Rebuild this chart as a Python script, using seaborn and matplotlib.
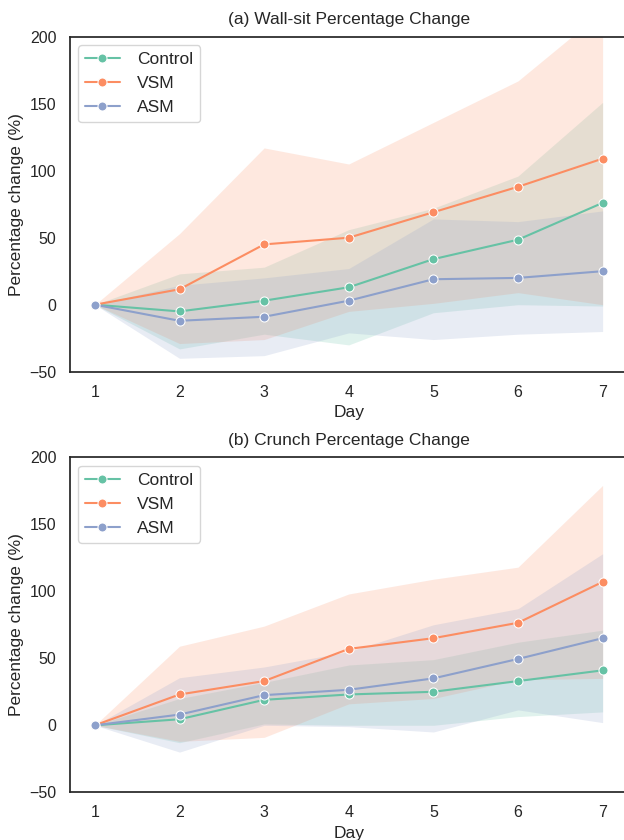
import numpy as np
import pandas as pd
import matplotlib.pyplot as plt
import seaborn as sns

days = [1, 2, 3, 4, 5, 6, 7]
groups = ['Control', 'VSM', 'ASM']

# (a) wall-sit: mean, lower and upper band
wall_control = [0, -5, 3, 13, 34, 48.5, 76]
wall_control_lo = [0, -33, -22, -30, -6, 0, -1]
wall_control_hi = [0, 23, 28, 56, 72, 96, 151]
wall_vsm = [0, 11.5, 45, 50, 69, 88, 109]
wall_vsm_lo = [0, -29, -26, -5, 1, 9, 0]
wall_vsm_hi = [0, 53, 117, 105, 136, 167, 219]
wall_asm = [0, -12, -9, 3, 19, 20, 25]
wall_asm_lo = [0, -40, -38, -21, -26, -22, -20]
wall_asm_hi = [0, 14.5, 20, 27, 64, 62, 70]

# (b) crunch
crunch_control = [0, 4.5, 19, 23, 25, 33, 41]
crunch_control_lo = [0, -13, 1, 0, 0, 6.5, 10]
crunch_control_hi = [0, 20, 32, 45, 49, 62, 71]
crunch_vsm = [0, 23, 33, 57, 65, 76.5, 107]
crunch_vsm_lo = [0, -12, -9, 16, 20, 34, 35]
crunch_vsm_hi = [0, 59, 74, 98, 109, 118, 179]
crunch_asm = [0, 8, 22.5, 26.5, 35, 49.5, 65]
crunch_asm_lo = [0, -20, 0, -1, -5, 11.5, 2]
crunch_asm_hi = [0, 35.5, 43.5, 55, 75, 87, 128]

yticks = [-50, 0, 50, 100, 150, 200]


def make_df(means, los, his):
    rows = []
    for g, m, lo, hi in zip(groups, means, los, his):
        for d, a, b, c in zip(days, m, lo, hi):
            rows.append({'Day': d, 'Group': g, 'mean': a, 'lo': b, 'hi': c})
    return pd.DataFrame(rows)


wall = make_df([wall_control, wall_vsm, wall_asm],
               [wall_control_lo, wall_vsm_lo, wall_asm_lo],
               [wall_control_hi, wall_vsm_hi, wall_asm_hi])
crunch = make_df([crunch_control, crunch_vsm, crunch_asm],
                 [crunch_control_lo, crunch_vsm_lo, crunch_asm_lo],
                 [crunch_control_hi, crunch_vsm_hi, crunch_asm_hi])

sns.set_theme(style='white')
plt.rcParams['font.family'] = ['Liberation Sans', 'DejaVu Sans']
colors = sns.color_palette('Set2', 3)

fig, axes = plt.subplots(2, 1, figsize=(6.24, 8.4), dpi=100)
positions = [[0.1114, 0.5575, 0.895, 0.3988], [0.1114, 0.0568, 0.895, 0.3988]]
titles = ['(a) Wall-sit Percentage Change', '(b) Crunch Percentage Change']

for ax, df, pos, title in zip(axes, [wall, crunch], positions, titles):
    ax.set_position(pos)
    sns.lineplot(data=df, x='Day', y='mean', hue='Group', hue_order=groups,
                 palette=colors, marker='o', markersize=6.5, linewidth=1.5, ax=ax)
    for g, c in zip(groups, colors):
        sub = df[df['Group'] == g]
        ax.fill_between(sub['Day'], sub['lo'], sub['hi'], color=c, alpha=0.2, linewidth=0)
    ax.set_xlim(0.7, 7.3)
    ax.set_ylim(-50, 200)
    ax.set_xticks(days)
    ax.set_yticks(yticks)
    ax.tick_params(labelsize=11.5)
    ax.set_xlabel('Day', fontsize=12.5)
    ax.set_ylabel('Percentage change (%)', fontsize=12.5)
    ax.set_title(title, fontsize=12.5, pad=9)
    sns.move_legend(ax, 'upper left', title=None, fontsize=12.5, frameon=True,
                    handletextpad=1.0)

fig.savefig('out.png', dpi=100)
